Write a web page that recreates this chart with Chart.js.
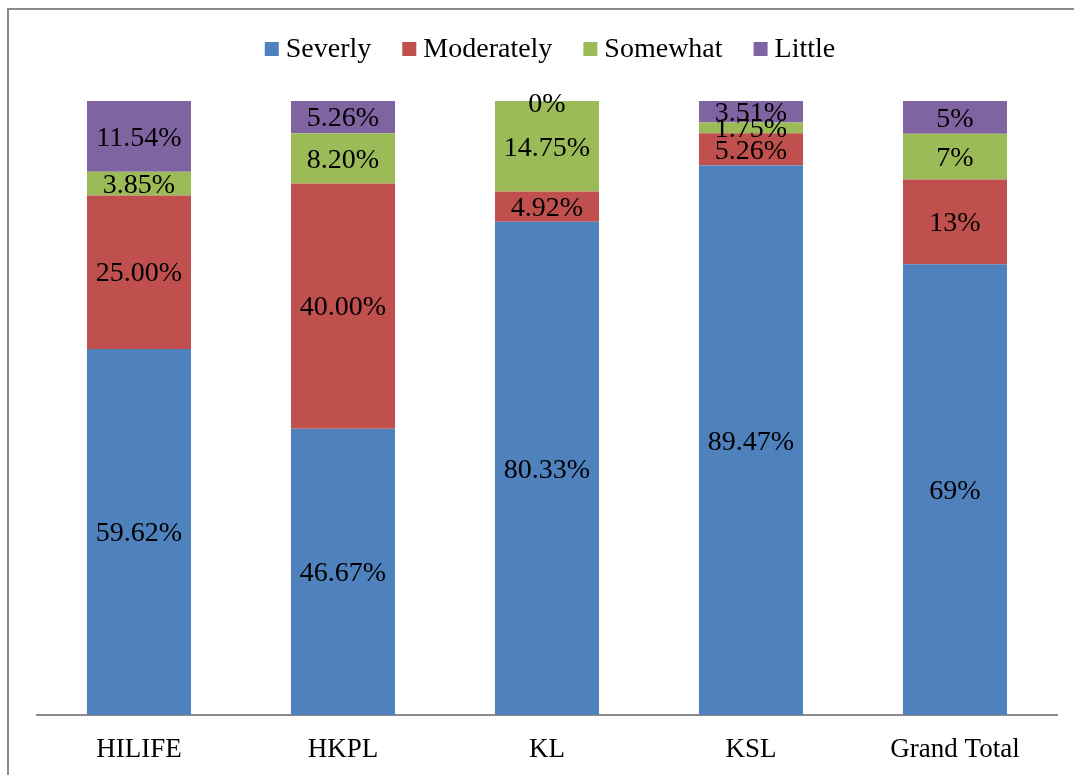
<!DOCTYPE html>
<html>
<head>
<meta charset="utf-8">
<title>Severity by unit</title>
<script src="https://cdn.jsdelivr.net/npm/chart.js@4.4.0/dist/chart.umd.min.js"></script>
<style>
  html, body { margin: 0; padding: 0; background: #fff; }
  #wrap { width: 1074px; height: 775px; }
</style>
</head>
<body>
<div id="wrap"><canvas id="myChart" width="1074" height="775"></canvas></div>
<script>
// categories and the share (%) of each answer in every group
const units = ['HILIFE', 'HKPL', 'KL', 'KSL', 'Grand Total'];
const severly = [59.62, 46.67, 80.33, 89.47, 69];
const moderately = [25.00, 40.00, 4.92, 5.26, 13];
const somewhat = [3.85, 8.20, 14.75, 1.75, 7];
const little = [11.54, 5.26, 0, 3.51, 5];
// decimals shown in the labels for each group
const decimals = [2, 2, 2, 2, 0];

const seriesNames = ['Severly', 'Moderately', 'Somewhat', 'Little'];
const seriesColors = ['#4F81BD', '#C0504D', '#9BBB59', '#8064A2'];
const seriesValues = [severly, moderately, somewhat, little];

// 100% stacked: every column is scaled to its own total
const totals = units.map((u, i) => seriesValues.reduce((s, arr) => s + arr[i], 0));

const fontFam = '"Liberation Serif", "Times New Roman", serif';

const datasets = seriesNames.map((name, k) => ({
  label: name,
  data: seriesValues[k].map((v, i) => v / totals[i] * 100),
  raw: seriesValues[k],
  backgroundColor: seriesColors[k],
  borderWidth: 0,
  categoryPercentage: 1,
  barPercentage: 0.51
}));

function fmt(v, i) {
  if (v === 0) return '0%';
  return v.toFixed(decimals[i]) + '%';
}

// value labels in the middle of each segment (digits centred on the segment)
const barLabels = {
  id: 'barLabels',
  afterDatasetsDraw(chart) {
    const ctx = chart.ctx;
    const size = 28;
    ctx.save();
    ctx.font = size + 'px ' + fontFam;
    ctx.fillStyle = '#000';
    ctx.textAlign = 'center';
    ctx.textBaseline = 'alphabetic';
    chart.data.datasets.forEach((ds, k) => {
      const meta = chart.getDatasetMeta(k);
      meta.data.forEach((bar, i) => {
        let y = (bar.y + bar.base) / 2 + size * 0.33;
        if (ds.raw[i] === 0) y += 2;
        ctx.fillText(fmt(ds.raw[i], i), bar.x, y);
      });
    });
    ctx.restore();
  }
};

// legend row above the plot, drawn by hand for tighter spacing
const topLegend = {
  id: 'topLegend',
  afterDraw(chart) {
    const ctx = chart.ctx;
    const area = chart.chartArea;
    const size = 28;
    ctx.save();
    ctx.font = size + 'px ' + fontFam;
    ctx.textBaseline = 'alphabetic';
    const box = 14, gapText = 7, gapItem = 31;
    const widths = seriesNames.map(n => ctx.measureText(n).width);
    const total = widths.reduce((s, w) => s + box + gapText + w, 0) + gapItem * (seriesNames.length - 1);
    let x = (area.left + area.right) / 2 + 3 - total / 2;
    const cy = 48;
    seriesNames.forEach((n, k) => {
      ctx.fillStyle = seriesColors[k];
      ctx.fillRect(x, cy - 6, box, 14);
      ctx.fillStyle = '#000';
      ctx.fillText(n, x + box + gapText, cy + size * 0.33);
      x += box + gapText + widths[k] + gapItem;
    });
    ctx.restore();
  }
};

// grey frame round the whole chart
const frame = {
  id: 'frame',
  beforeDraw(chart) {
    const ctx = chart.ctx;
    ctx.save();
    ctx.fillStyle = '#fff';
    ctx.fillRect(0, 0, chart.width, chart.height);
    ctx.strokeStyle = '#8a8a8a';
    ctx.lineWidth = 2;
    ctx.strokeRect(8, 9, chart.width + 20, chart.height + 20);
    ctx.restore();
  }
};

const ctx = document.getElementById('myChart');

new Chart(ctx, {
  type: 'bar',
  data: {
    labels: units,
    datasets: datasets
  },
  options: {
    responsive: false,
    animation: false,
    layout: {
      padding: { left: 37, right: 17, top: 101, bottom: 0 }
    },
    plugins: {
      legend: { display: false },
      tooltip: { enabled: false }
    },
    scales: {
      x: {
        stacked: true,
        grid: { display: false, drawTicks: false },
        border: { display: true, color: '#8a8a8a', width: 2 },
        ticks: {
          color: '#000',
          padding: 19,
          font: { family: fontFam, size: 27 }
        },
        afterFit: (scale) => { scale.height = 60; }
      },
      y: {
        stacked: true,
        display: false,
        min: 0,
        max: 100
      }
    }
  },
  plugins: [frame, barLabels, topLegend]
});
</script>
</body>
</html>
